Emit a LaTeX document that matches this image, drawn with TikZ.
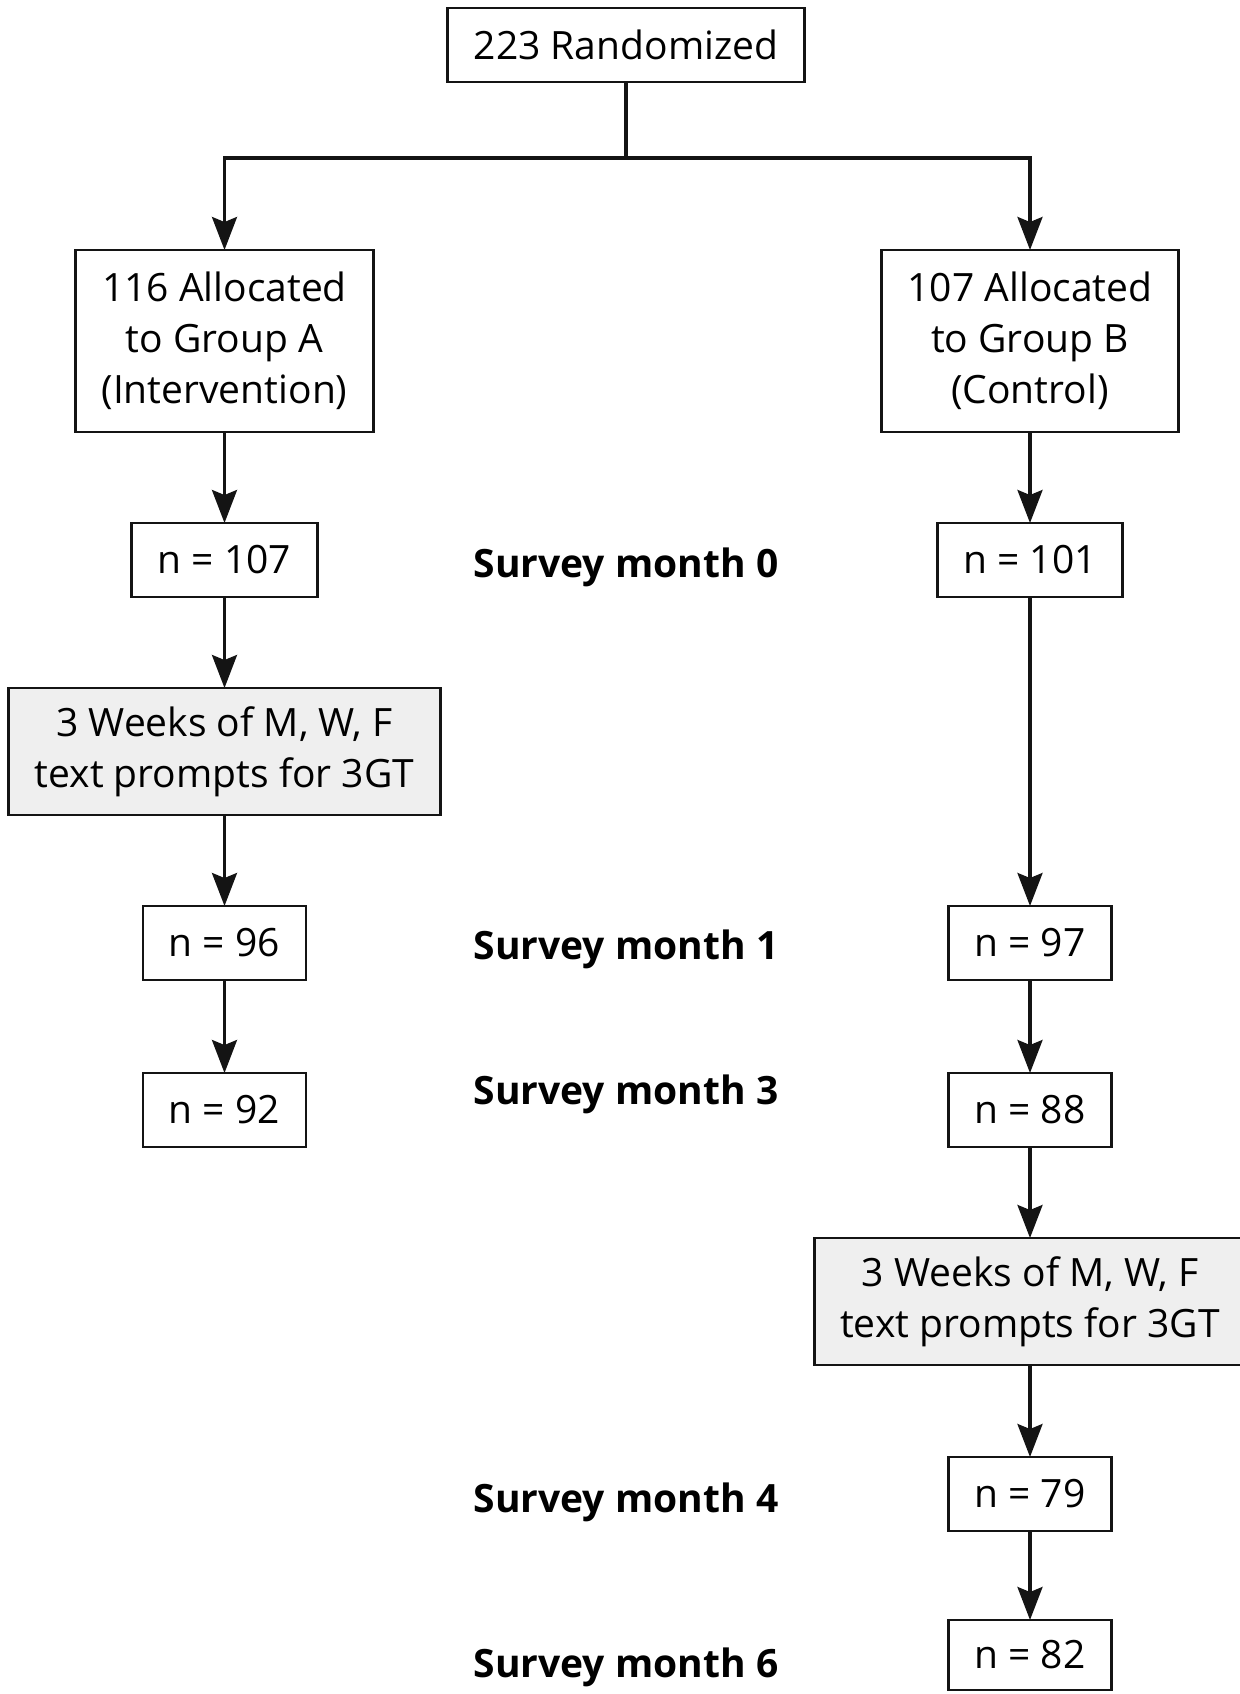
\documentclass[tikz,border=0pt]{standalone}
\usepackage{fontspec}
\setmainfont{Open Sans}
\usepackage{xcolor}
\usepackage{tikz}
\usetikzlibrary{arrows.meta, positioning}
\definecolor{promptFill}{RGB}{239,239,239}
\definecolor{ink}{RGB}{20,20,20}
\tikzset{
  nodebox/.style={
    draw=ink,
    line width=1.4pt,
    align=center,
    outer sep=0pt,
    inner xsep=13pt,
    inner ysep=4pt,
    font=\fontsize{19.5}{25.5}\selectfont,
    fill=white
  },
  groupNode/.style={nodebox, minimum width=143pt, minimum height=91pt},
  countNode/.style={nodebox, minimum height=37pt},
  promptNode/.style={nodebox, fill=promptFill, minimum height=63.5pt},
  monthLabel/.style={font=\fontsize{19.5}{25.5}\selectfont\bfseries, inner sep=0pt},
  flow/.style={-{Stealth[length=16.5pt, width=12.5pt, inset=2.5pt]}, line width=1.6pt, draw=ink},
  plain/.style={line width=1.6pt, draw=ink}
}

\begin{document}
\begin{tikzpicture}[node distance=45.5pt]
  \useasboundingbox (0,0) rectangle (619.5pt,-847pt);

  \node[nodebox, minimum width=174pt, minimum height=37pt] (rand) at (313pt,-22.5pt) {223 Randomized};
  \coordinate (split) at (313pt,-79pt);

  % group A (intervention) column
  \node[groupNode] (grpA) at (112.25pt,-170.5pt) {116 Allocated\\to Group A\\(Intervention)};
  \node[countNode, below=of grpA] (a0) {n = 107};
  \node[promptNode, below=of a0, minimum width=212.5pt] (promptA) {3 Weeks of M, W, F\\text prompts for 3GT};
  \node[countNode, below=of promptA] (a1) {n = 96};
  \node[countNode, below=46.5pt of a1] (a3) {n = 92};

  % group B (control) column
  \node[groupNode, minimum width=145pt] (grpB) at (515pt,-170.5pt) {107 Allocated\\to Group B\\(Control)};
  \node[countNode, below=of grpB] (b0) {n = 101};
  \node[countNode, below=154.5pt of b0] (b1) {n = 97};
  \node[countNode, below=46.5pt of b1] (b3) {n = 88};
  \node[promptNode, below=of b3, minimum width=207pt] (promptB) {3 Weeks of M, W, F\\text prompts for 3GT};
  \node[countNode, below=46pt of promptB] (b4) {n = 79};
  \node[countNode, below=44.5pt of b4, minimum height=35pt] (b6) {n = 82};

  % survey labels
  \node[monthLabel, yshift=-3.9pt] (m0) at (rand |- a0) {Survey month 0};
  \node[monthLabel, yshift=-3.4pt] (m1) at (rand |- a1) {Survey month 1};
  \node[monthLabel, yshift=7.8pt] (m3) at (rand |- b3) {Survey month 3};
  \node[monthLabel, yshift=-4.1pt] (m4) at (rand |- b4) {Survey month 4};
  \node[monthLabel, yshift=-6.4pt] (m6) at (rand |- b6) {Survey month 6};

  \draw[plain] (rand) -- (split);
  \draw[flow] (split) -| (grpA);
  \draw[flow] (split) -| (grpB);

  \draw[flow] (grpA) -- (a0);
  \draw[flow] (a0) -- (promptA);
  \draw[flow] (promptA) -- (a1);
  \draw[flow] (a1) -- (a3);

  \draw[flow] (grpB) -- (b0);
  \draw[flow] (b0) -- (b1);
  \draw[flow] (b1) -- (b3);
  \draw[flow] (b3) -- (promptB);
  \draw[flow] (promptB) -- (b4);
  \draw[flow] (b4) -- (b6);
\end{tikzpicture}
\end{document}
